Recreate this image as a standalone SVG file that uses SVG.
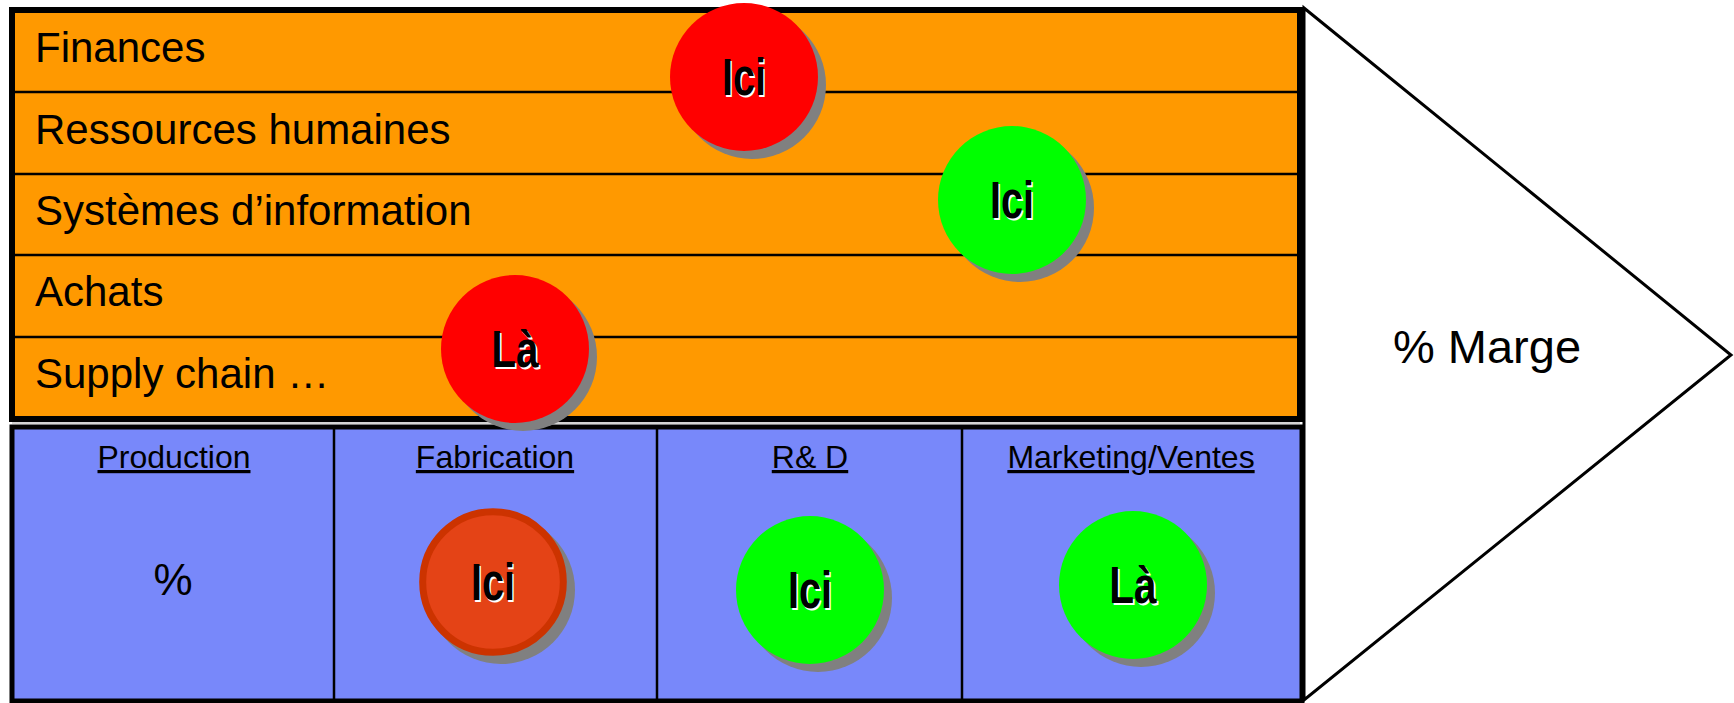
<svg xmlns="http://www.w3.org/2000/svg" width="1734" height="703" viewBox="0 0 1734 703">
<style>
.lbl{font-family:"Liberation Sans",Arial,sans-serif;font-size:42px;fill:#000}
.hdr{font-family:"Liberation Sans",Arial,sans-serif;font-size:32px;fill:#000;text-anchor:middle;text-decoration:underline}
.big{font-family:"Liberation Sans",Arial,sans-serif;fill:#000;text-anchor:middle}
.ball text{font-family:"Liberation Sans",Arial,sans-serif;font-weight:bold;font-size:52px;text-anchor:middle}
.sh{fill:#808080}
.div{stroke:#000;stroke-width:2.5}
.red{fill:#FF0000}
.green{fill:#00FF00}
</style>
<rect width="1734" height="703" fill="#fff"/>

<g id="marge">
  <polygon points="1304,8 1731,355 1304,700" fill="#fff" stroke="#000" stroke-width="3" stroke-linejoin="miter"/>
  <text class="big" x="1487" y="363" font-size="47">% Marge</text>
</g>

<g id="support">
  <rect x="12" y="10" width="1288" height="409" fill="#FF9900" stroke="#000" stroke-width="6"/>
  <line x1="12" y1="423" x2="1300" y2="423" stroke="#d4d4d4" stroke-width="2"/>
  <g id="row-finances"><text class="lbl" x="35" y="62">Finances</text></g>
  <g id="row-rh"><text class="lbl" x="35" y="144">Ressources humaines</text></g>
  <g id="row-si"><text class="lbl" x="35" y="225">Systèmes d’information</text></g>
  <g id="row-achats"><text class="lbl" x="35" y="306">Achats</text></g>
  <g id="row-supply"><text class="lbl" x="35" y="388">Supply chain …</text></g>
  <g id="row-lines" class="div">
    <line x1="15" y1="92" x2="1297" y2="92"/>
    <line x1="15" y1="174" x2="1297" y2="174"/>
    <line x1="15" y1="255" x2="1297" y2="255"/>
    <line x1="15" y1="337" x2="1297" y2="337"/>
  </g>
</g>

<g id="primary">
  <rect x="12" y="427" width="1290" height="274" fill="#7888FA" stroke="#000" stroke-width="5"/>
  <g id="col-lines" class="div">
    <line x1="334" y1="429" x2="334" y2="699"/>
    <line x1="657" y1="429" x2="657" y2="699"/>
    <line x1="962" y1="429" x2="962" y2="699"/>
  </g>
  <g id="col-production">
    <text class="hdr" x="174" y="468">Production</text>
    <text class="big" x="173" y="595" font-size="44">%</text>
  </g>
  <g id="col-fabrication"><text class="hdr" x="495" y="468">Fabrication</text></g>
  <g id="col-rd"><text class="hdr" x="810" y="468">R&amp; D</text></g>
  <g id="col-marketing"><text class="hdr" x="1131" y="468">Marketing/Ventes</text></g>
</g>

<g id="ball-finances" class="ball">
  <circle class="sh" cx="752" cy="85" r="74"/>
  <circle class="red" cx="744" cy="77" r="74"/>
  <g transform="translate(744,95) scale(0.76,1)"><text x="2" y="2" fill="#fff">Ici</text><text x="0" y="0" fill="#000">Ici</text></g>
</g>
<g id="ball-si" class="ball">
  <circle class="sh" cx="1020" cy="208" r="74"/>
  <circle class="green" cx="1012" cy="200" r="74"/>
  <g transform="translate(1012,218) scale(0.76,1)"><text x="2" y="2" fill="#fff">Ici</text><text x="0" y="0" fill="#000">Ici</text></g>
</g>
<g id="ball-supply" class="ball">
  <circle class="sh" cx="523" cy="357" r="74"/>
  <circle class="red" cx="515" cy="349" r="74"/>
  <g transform="translate(515,367) scale(0.78,1)"><text x="2" y="2" fill="#fff">Là</text><text x="0" y="0" fill="#000">Là</text></g>
</g>
<g id="ball-fabrication" class="ball">
  <circle class="sh" cx="501" cy="590" r="74"/>
  <circle cx="493" cy="582" r="70.3" fill="#E44316" stroke="#CC3300" stroke-width="7"/>
  <g transform="translate(493,600) scale(0.76,1)"><text x="2" y="2" fill="#fff">Ici</text><text x="0" y="0" fill="#000">Ici</text></g>
</g>
<g id="ball-rd" class="ball">
  <circle class="sh" cx="818" cy="598" r="74"/>
  <circle class="green" cx="810" cy="590" r="74"/>
  <g transform="translate(810,608) scale(0.76,1)"><text x="2" y="2" fill="#fff">Ici</text><text x="0" y="0" fill="#000">Ici</text></g>
</g>
<g id="ball-marketing" class="ball">
  <circle class="sh" cx="1141" cy="593" r="74"/>
  <circle class="green" cx="1133" cy="585" r="74"/>
  <g transform="translate(1133,603) scale(0.78,1)"><text x="2" y="2" fill="#fff">Là</text><text x="0" y="0" fill="#000">Là</text></g>
</g>
<g id="connectors"/>
</svg>
